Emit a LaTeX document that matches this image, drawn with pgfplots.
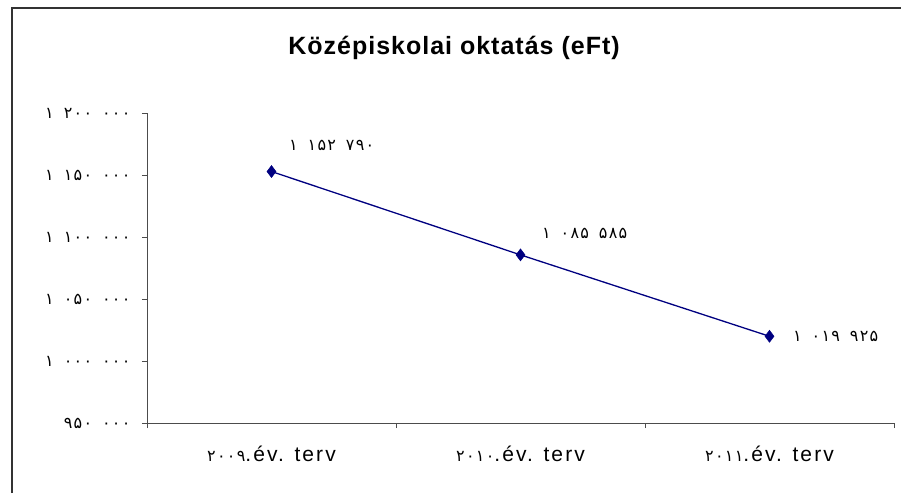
\documentclass[border=0pt]{standalone}
\usepackage{fontspec}
\setmainfont{Liberation Sans}
\newfontfamily\lsfont[LetterSpace=10]{Liberation Sans}
\newfontfamily\titlefont[LetterSpace=4]{Liberation Sans}
\newfontfamily\arabicfont[Script=Arabic,LetterSpace=8]{DejaVu Sans}
\usepackage{pgfplots}
\pgfplotsset{compat=1.18}
\newcommand\ar[1]{{\fontsize{16}{18}\arabicfont #1}}
\newcommand\grp{\hspace{10pt}}
\definecolor{navyline}{RGB}{0,0,128}
\begin{document}
\begin{tikzpicture}[x=1pt,y=1pt]
\path[use as bounding box] (0,0) rectangle (901,493);
\draw[line width=2pt, black!80] (12,0) -- (12,485) -- (901,485);
\node[font=\fontsize{25}{28}\titlefont\bfseries] at (454,445) {Középiskolai oktatás (eFt)};
\begin{axis}[
  at={(147pt,70pt)}, anchor=south west,
  width=747pt, height=310pt, scale only axis,
  xmin=-0.5, xmax=2.5, ymin=950000, ymax=1200000,
  scaled y ticks=false,
  axis x line*=bottom, axis y line*=left,
  axis line style={-, black!70, line width=1pt},
  every tick/.style={black!70, line width=1pt},
  tick align=outside,
  major tick length=5pt, minor tick length=5pt,
  xtick={0,1,2},
  major x tick style={draw=none},
  minor xtick={-0.5,0.5,1.5,2.5},
  xticklabels={{\ar{۲۰۰۹}.év. terv},{\ar{۲۰۱۰}.év. terv},{\ar{۲۰۱۱}.év. terv}},
  ytick={950000,1000000,1050000,1100000,1150000,1200000},
  yticklabels={
    {\ar{۹۵۰}\grp\ar{۰۰۰}},
    {\ar{۱}\grp\ar{۰۰۰}\grp\ar{۰۰۰}},
    {\ar{۱}\grp\ar{۰۵۰}\grp\ar{۰۰۰}},
    {\ar{۱}\grp\ar{۱۰۰}\grp\ar{۰۰۰}},
    {\ar{۱}\grp\ar{۱۵۰}\grp\ar{۰۰۰}},
    {\ar{۱}\grp\ar{۲۰۰}\grp\ar{۰۰۰}}},
  tick label style={font=\fontsize{14}{16}\selectfont},
  xticklabel style={font=\fontsize{21}{24}\lsfont, yshift=-14pt},
  yticklabel style={xshift=-8pt},
  clip=false,
]
\addplot[navyline, line width=1.3pt, mark=diamond*, mark size=6pt,
  mark options={solid, fill=navyline, draw=navyline, line width=0.5pt}]
  coordinates {(0,1152790) (1,1085585) (2,1019925)};
\node[anchor=west, font=\fontsize{14}{16}\selectfont, xshift=14pt, yshift=26pt]
  at (axis cs:0,1152790) {\ar{۱}\grp\ar{۱۵۲}\grp\ar{۷۹۰}};
\node[anchor=west, font=\fontsize{14}{16}\selectfont, xshift=18pt, yshift=21pt]
  at (axis cs:1,1085585) {\ar{۱}\grp\ar{۰۸۵}\grp\ar{۵۸۵}};
\node[anchor=west, font=\fontsize{14}{16}\selectfont, xshift=20pt, yshift=0pt]
  at (axis cs:2,1019925) {\ar{۱}\grp\ar{۰۱۹}\grp\ar{۹۲۵}};
\end{axis}
\end{tikzpicture}
\end{document}
